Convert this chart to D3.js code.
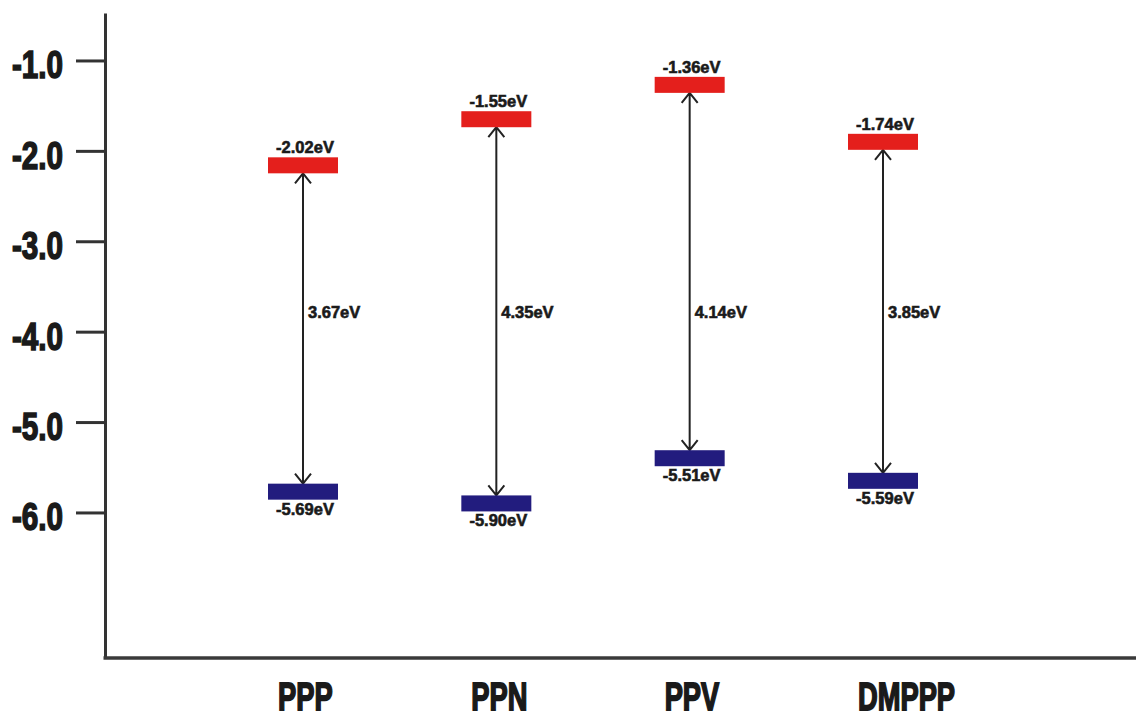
<!DOCTYPE html>
<html>
<head>
<meta charset="utf-8">
<script src="https://cdn.jsdelivr.net/npm/d3@7"></script>
<style>
  html, body { margin: 0; padding: 0; background: #fff; }
  svg { display: block; }
  text { font-family: "Liberation Sans", Arial, sans-serif; font-weight: bold; fill: #1a1a1a; }
</style>
</head>
<body>
<svg id="chart" width="1136" height="718"></svg>
<script>
// ---- data ----
const categories = ["PPP", "PPN", "PPV", "DMPPP"];
const lumoLevel = [-2.16, -1.65, -1.27, -1.90];   // plotted LUMO level (as drawn)
const homoLevel = [-5.77, -5.90, -5.40, -5.65];   // plotted HOMO level (as drawn)
const lumoLabel = ["-2.02eV", "-1.55eV", "-1.36eV", "-1.74eV"];
const homoLabel = ["-5.69eV", "-5.90eV", "-5.51eV", "-5.59eV"];
const gapLabel  = ["3.67eV", "4.35eV", "4.14eV", "3.85eV"];
const yTicks = [-1, -2, -3, -4, -5, -6];

// ---- layout ----
const svg = d3.select("#chart");
const axisX = 105, axisTop = 13, axisBottom = 658;
const y = d3.scaleLinear().domain([-0.475, -7.61]).range([axisTop, axisBottom]);
const x = d3.scalePoint().domain(categories).range([303, 883]);
const barW = 70, barH = 16;
const red = "#e41f1c", blue = "#221c7e", ink = "#222";

// y axis
const yAxis = d3.axisLeft(y).tickValues(yTicks).tickSize(29).tickSizeOuter(0)
  .tickPadding(13).tickFormat(d => d.toFixed(1));
const gy = svg.append("g").attr("transform", `translate(${axisX},0)`).call(yAxis);
gy.select(".domain").attr("stroke", "#333").attr("stroke-width", 3);
gy.selectAll(".tick line").attr("stroke", "#333").attr("stroke-width", 3);
gy.selectAll(".tick text")
  .attr("x", null).attr("dy", null)
  .attr("transform", "translate(-42,17.5) scale(0.78,1)")
  .attr("font-size", 38).attr("font-weight", "bold")
  .attr("font-family", "'Liberation Sans', Arial, sans-serif")
  .attr("fill", "#1a1a1a").attr("stroke", "#1a1a1a").attr("stroke-width", 1.6);

// x axis line
svg.append("line")
  .attr("x1", axisX - 1.5).attr("x2", 1136)
  .attr("y1", axisBottom).attr("y2", axisBottom)
  .attr("stroke", "#3a3a3a").attr("stroke-width", 3.5);

// category labels
svg.append("g").selectAll("text").data(categories).join("text")
  .attr("transform", d => `translate(${x(d) - 25},710) scale(0.70,1)`)
  .attr("text-anchor", "start")
  .attr("font-size", 39)
  .attr("stroke", "#1a1a1a").attr("stroke-width", 1.8)
  .text(d => d);

const rows = categories.map((c, i) => ({
  c, lumo: lumoLevel[i], homo: homoLevel[i],
  lumoLabel: lumoLabel[i], homoLabel: homoLabel[i], gap: gapLabel[i]
}));

// arrows
const head = 8, headH = 10;
svg.append("g").selectAll("path").data(rows).join("path")
  .attr("fill", "none").attr("stroke", ink).attr("stroke-width", 2)
  .attr("d", d => {
    const cx = x(d.c);
    const y1 = y(d.lumo) + barH / 2, y2 = y(d.homo) - barH / 2;
    const p = d3.path();
    p.moveTo(cx, y1); p.lineTo(cx, y2);
    p.moveTo(cx - head, y1 + headH); p.lineTo(cx, y1); p.lineTo(cx + head, y1 + headH);
    p.moveTo(cx - head, y2 - headH); p.lineTo(cx, y2); p.lineTo(cx + head, y2 - headH);
    return p.toString();
  });

// LUMO bars
svg.append("g").selectAll("rect").data(rows).join("rect")
  .attr("x", d => x(d.c) - barW / 2).attr("y", d => y(d.lumo) - barH / 2)
  .attr("width", barW).attr("height", barH).attr("fill", red);

// HOMO bars
svg.append("g").selectAll("rect").data(rows).join("rect")
  .attr("x", d => x(d.c) - barW / 2).attr("y", d => y(d.homo) - barH / 2)
  .attr("width", barW).attr("height", barH).attr("fill", blue);

// level labels
const small = sel => sel.attr("font-size", 16.5)
  .attr("stroke", "#1a1a1a").attr("stroke-width", 0.6);
svg.append("g").selectAll("text").data(rows).join("text")
  .attr("x", d => x(d.c) + 2).attr("y", d => y(d.lumo) - barH / 2 - 4)
  .attr("text-anchor", "middle").call(small)
  .text(d => d.lumoLabel);
svg.append("g").selectAll("text").data(rows).join("text")
  .attr("x", d => x(d.c) + 2).attr("y", d => y(d.homo) + barH / 2 + 15)
  .attr("text-anchor", "middle").call(small)
  .text(d => d.homoLabel);

// gap labels
svg.append("g").selectAll("text").data(rows).join("text")
  .attr("x", d => x(d.c) + 5).attr("y", y(-3.78) + 6)
  .attr("text-anchor", "start").call(small)
  .text(d => d.gap);
</script>
</body>
</html>
